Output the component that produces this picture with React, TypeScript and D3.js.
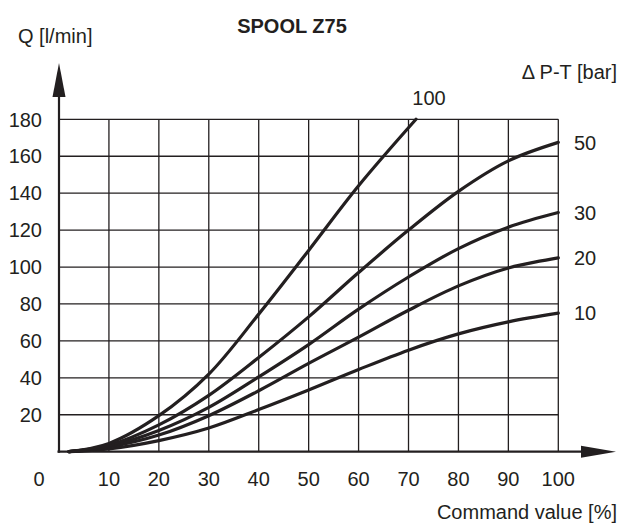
import * as d3 from 'd3'

// Command value [%] sample points
const commandX = [2, 10, 20, 30, 40, 50, 60, 70, 80, 90, 100]
// Q [l/min] for each ΔP-T
const q10 = [0, 1.5, 6, 12.8, 22.8, 33.4, 44.5, 55, 63.8, 70.3, 75]
const q20 = [0, 2.5, 9, 19.5, 33, 47.8, 62, 76.6, 89.8, 99.5, 105]
const q30 = [0, 3, 11.5, 24, 40.5, 58, 77.2, 94.6, 110, 121.6, 129.5]
const q50 = [0, 3.5, 14.5, 30.5, 51, 73, 97, 120, 141, 157.5, 167.5]
// the 100 bar curve leaves the grid at 180 l/min
const q100X = [2, 10, 20, 30, 40, 50, 60, 71.5]
const q100 = [0, 4.5, 19.5, 42, 74.5, 109, 144, 180]

const xTicks = [10, 20, 30, 40, 50, 60, 70, 80, 90, 100]
const yTicks = [20, 40, 60, 80, 100, 120, 140, 160, 180]

const FONT = '"Liberation Sans", Arial, Helvetica, sans-serif'
const INK = '#231f20'

export default function App() {
  const width = 635
  const height = 526

  const x = d3.scaleLinear().domain([0, 100]).range([59, 558.3])
  const y = d3.scaleLinear().domain([0, 180]).range([451.7, 119.3])

  const line = d3
    .line<[number, number]>()
    .x((d) => x(d[0]))
    .y((d) => y(d[1]))
    .curve(d3.curveCatmullRom.alpha(0.5))

  const series = [
    { label: '10', xs: commandX, ys: q10 },
    { label: '20', xs: commandX, ys: q20 },
    { label: '30', xs: commandX, ys: q30 },
    { label: '50', xs: commandX, ys: q50 },
    { label: '100', xs: q100X, ys: q100 },
  ]

  const x0 = x(0)
  const y0 = y(0)
  const xEnd = x(100)
  const yTop = y(180)

  return (
    <svg
      width={width}
      height={height}
      style={{ position: 'absolute', left: 0, top: 0, background: '#fff' }}
      fontFamily={FONT}
    >
      {/* grid */}
      <g stroke={INK} strokeWidth={1.3}>
        {xTicks.map((t) => (
          <line key={'v' + t} x1={x(t)} x2={x(t)} y1={y0} y2={yTop} />
        ))}
        {yTicks.map((t) => (
          <line key={'h' + t} x1={x0} x2={xEnd} y1={y(t)} y2={y(t)} />
        ))}
      </g>

      {/* axes with arrows */}
      <g fill={INK} stroke={INK}>
        <line x1={x0} x2={x0} y1={y0 + 1} y2={97} strokeWidth={2.2} />
        <polygon points={`${x0},63 ${x0 - 6.5},97 ${x0 + 6.5},97`} stroke="none" />
        <line x1={x0 - 1.5} x2={582} y1={y0} y2={y0} strokeWidth={2.2} />
        <polygon points={`616,${y0} 581,${y0 - 6} 581,${y0 + 6}`} stroke="none" />
      </g>

      {/* curves */}
      <g fill="none" stroke={INK} strokeWidth={3.2} strokeLinecap="round">
        {series.map((s) => (
          <path key={s.label} d={line(s.xs.map((v, i) => [v, s.ys[i]] as [number, number])) || ''} />
        ))}
      </g>

      {/* tick labels */}
      <g fontSize={20} fill={INK}>
        {yTicks.map((t) => (
          <text key={'yl' + t} x={42} y={y(t)} dy="0.36em" textAnchor="end">
            {t}
          </text>
        ))}
        <text x={39} y={486} textAnchor="middle">
          0
        </text>
        {xTicks.map((t) => (
          <text key={'xl' + t} x={x(t)} y={486} textAnchor="middle">
            {t}
          </text>
        ))}
      </g>

      {/* curve labels */}
      <g fontSize={20} fill={INK}>
        {series
          .filter((s) => s.label !== '100')
          .map((s) => (
            <text key={'sl' + s.label} x={574} y={y(s.ys[s.ys.length - 1])} dy="0.36em">
              {s.label}
            </text>
          ))}
        <text x={429} y={105} textAnchor="middle">
          100
        </text>
        <text x={617} y={79} textAnchor="end">
          {'\u0394 P-T  [bar]'}
        </text>
      </g>

      {/* titles */}
      <text x={292} y={32.7} textAnchor="middle" fontSize={20} fontWeight="bold" fill={INK}>
        SPOOL Z75
      </text>
      <text x={18} y={43} fontSize={20} fill={INK}>
        Q [l/min]
      </text>
      <text x={617} y={519} textAnchor="end" fontSize={20} fill={INK}>
        Command value [%]
      </text>
    </svg>
  )
}
